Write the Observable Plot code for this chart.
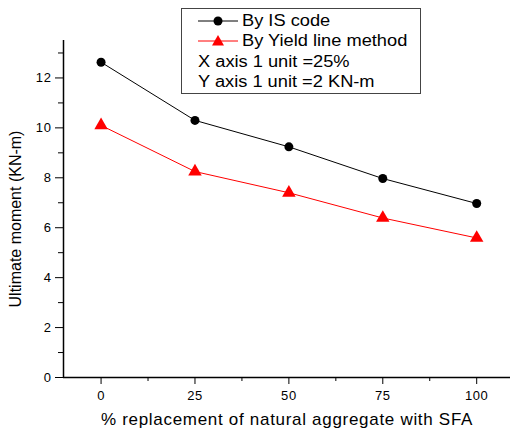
<!DOCTYPE html>
<html>
<head>
<meta charset="utf-8">
<script src="https://cdn.jsdelivr.net/npm/d3@7"></script>
<script src="https://cdn.jsdelivr.net/npm/@observablehq/plot@0.6"></script>
<style>
  body { margin: 0; background: #fff; }
  #wrap { position: relative; width: 510px; height: 432px; font-family: "Liberation Sans", Arial, sans-serif; }
  #wrap svg g[aria-label$="tick label"] text { font-size: 13px !important; letter-spacing: 0.6px; }
  #legend { position: absolute; left: 181px; top: 8px; width: 238px; height: 84px; border: 1.2px solid #444; background: #fff; font-size: 16px; color: #000; }
  #legend .row { position: absolute; left: 0; height: 20px; line-height: 20px; white-space: nowrap; }
  #legend .txt { display: inline-block; transform: scaleX(1.14); transform-origin: left center; }
  #legend svg { vertical-align: top; }
</style>
</head>
<body>
<div id="wrap"></div>
<script>
const replacement = [0, 25, 50, 75, 100];
const isCode = [12.63, 10.3, 9.24, 7.97, 6.97];
const yieldLine = [10.1, 8.25, 7.4, 6.39, 5.59];
const seriesNames = ["By IS code", "By Yield line method"];
const legendNotes = ["X axis 1 unit =25%", "Y axis 1 unit =2 KN-m"];
const xMajor = [0, 25, 50, 75, 100];
const xMinor = [12.5, 37.5, 62.5, 87.5];
const yMajor = [0, 2, 4, 6, 8, 10, 12];
const yMinor = [1, 3, 5, 7, 9, 11, 13];
const xLabel = "% replacement of natural aggregate with SFA";
const yLabel = "Ultimate moment (KN-m)";

const dIS = replacement.map((x, i) => ({x, y: isCode[i]}));
const dYL = replacement.map((x, i) => ({x, y: yieldLine[i]}));

const chart = Plot.plot({
  width: 510,
  height: 432,
  marginLeft: 63,
  marginRight: 0,
  marginTop: 40,
  marginBottom: 55,
  style: {fontFamily: "'Liberation Sans', Arial, sans-serif", fontSize: "13px", color: "#000", background: "#fff"},
  x: {domain: [-10, 109]},
  y: {domain: [0, 13.5]},
  marks: [
    Plot.axisX({ticks: xMajor, tickSize: 7, tickPadding: 6, tickFormat: d => String(d), label: null}),
    Plot.axisX({ticks: xMinor, tickSize: 4, tickFormat: () => "", label: null}),
    Plot.axisY({ticks: yMajor, tickSize: 8, tickPadding: 4, tickFormat: d => String(d), label: null}),
    Plot.axisY({ticks: yMinor, tickSize: 5, tickFormat: () => "", label: null}),
    Plot.ruleX([-10], {stroke: "#000", strokeWidth: 1.5}),
    Plot.ruleY([0], {stroke: "#000", strokeWidth: 1.5}),
    Plot.line(dIS, {x: "x", y: "y", stroke: "#000", strokeWidth: 1}),
    Plot.dot(dIS, {x: "x", y: "y", r: 4.5, fill: "#000", stroke: "none"}),
    Plot.line(dYL, {x: "x", y: "y", stroke: "#ff0000", strokeWidth: 1}),
    Plot.dot(dYL, {x: "x", y: "y", symbol: "triangle", r: 5, fill: "#ff0000", stroke: "none"}),
    Plot.text([xLabel], {frameAnchor: "bottom", dy: 47, text: d => d, fontSize: 17}),
    Plot.text([yLabel], {frameAnchor: "left", textAnchor: "middle", dx: -48, dy: 10, rotate: -90, text: d => d, fontSize: 16})
  ]
});

const wrap = document.getElementById("wrap");
wrap.appendChild(chart);
chart.querySelectorAll("text").forEach(t => {
  if (t.textContent === xLabel) t.setAttribute("letter-spacing", "0.7");
});

const legend = document.createElement("div");
legend.id = "legend";
const rows = [
  {top: 2, html: `<svg width="60" height="20"><line x1="16" x2="56" y1="10" y2="10" stroke="#000" stroke-width="1"/><circle cx="36" cy="10" r="4.5" fill="#000"/></svg><span class="txt">${seriesNames[0]}</span>`},
  {top: 22, html: `<svg width="60" height="20"><line x1="16" x2="56" y1="10" y2="10" stroke="#f00" stroke-width="1"/><path d="M36,4 L42,14.5 L30,14.5 Z" fill="#f00"/></svg><span class="txt">${seriesNames[1]}</span>`},
  {top: 43, html: `<span class="txt" style="margin-left:16px">${legendNotes[0]}</span>`},
  {top: 63, html: `<span class="txt" style="margin-left:16px">${legendNotes[1]}</span>`}
];
rows.forEach(r => {
  const d = document.createElement("div");
  d.className = "row";
  d.style.top = r.top + "px";
  d.innerHTML = r.html;
  legend.appendChild(d);
});
wrap.appendChild(legend);
</script>
</body>
</html>
